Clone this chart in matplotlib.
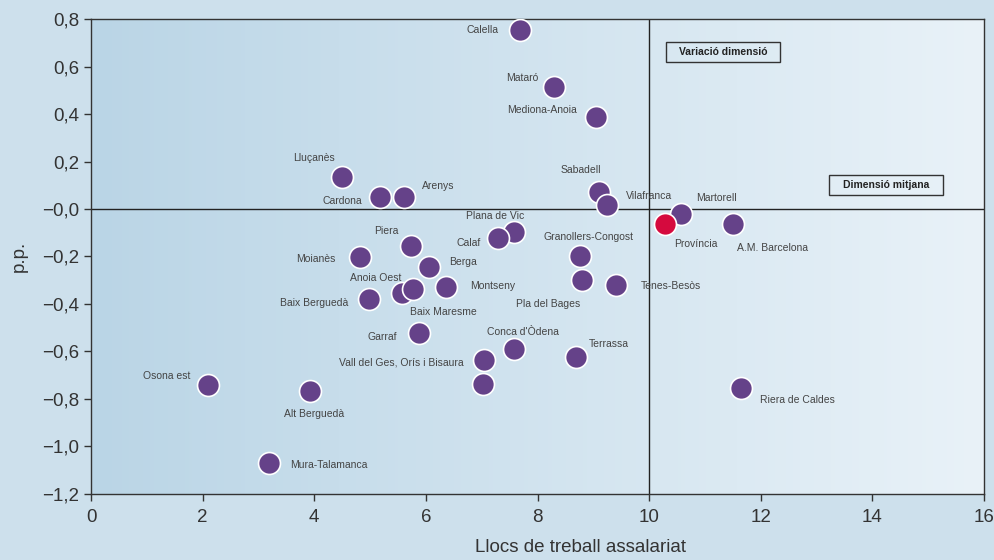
import numpy as np
import matplotlib
matplotlib.use("Agg")
import matplotlib.pyplot as plt
from matplotlib.colors import LinearSegmentedColormap
from matplotlib.patches import Rectangle

# data: x = llocs de treball assalariat, y = variació (p.p.)
names = ["Calella", "Mataró", "Mediona-Anoia", "Lluçanès", "Cardona", "Arenys",
         "Sabadell", "Vilafranca", "Martorell", "A.M. Barcelona", "Plana de Vic",
         "Calaf", "Piera", "Moianès", "Granollers-Congost", "Berga", "Pla del Bages",
         "Tenes-Besòs", "Montseny", "Anoia Oest", "Baix Maresme", "Baix Berguedà",
         "Garraf", "Conca d'Òdena", "Vall del Ges, Orís i Bisaura", "Terrassa", "",
         "Osona est", "Alt Berguedà", "Riera de Caldes", "Mura-Talamanca"]
xs = [7.69, 8.30, 9.05, 4.50, 5.18, 5.61, 9.10, 9.25, 10.57, 11.50, 7.58,
      7.29, 5.73, 4.82, 8.76, 6.06, 8.80, 9.41, 6.36, 5.57, 5.77, 4.98,
      5.88, 7.58, 7.04, 8.69, 7.03, 2.10, 3.92, 11.65, 3.19]
ys = [0.754, 0.514, 0.387, 0.135, 0.051, 0.051, 0.072, 0.017, -0.021, -0.063, -0.097,
      -0.122, -0.156, -0.202, -0.198, -0.244, -0.299, -0.320, -0.328, -0.353, -0.337, -0.379,
      -0.522, -0.589, -0.636, -0.623, -0.737, -0.741, -0.766, -0.753, -1.069]

prov_name = "Província"
prov_x = 10.29
prov_y = -0.063

# label offsets in pixels (dx, dy, ha)
offs = [(-22, 0, "right"), (-16, 9, "right"), (-19, 7, "right"), (-7, 19, "right"),
        (-18, -4, "right"), (18, 11, "left"), (-18, 22, "center"), (19, 9, "left"),
        (15, 16, "left"), (4, -24, "left"), (-19, 16, "center"),
        (-17, -5, "right"), (-25, 15, "center"), (-25, -2, "right"), (9, 19, "center"),
        (20, 5, "left"), (-34, -24, "center"), (25, -1, "left"), (24, 1, "left"),
        (-26, 15, "center"), (30, -23, "center"), (-21, -4, "right"),
        (-22, -4, "right"), (9, 17, "center"), (-20, -2, "right"), (13, 13, "left"), (0, 0, "left"),
        (-18, 9, "right"), (4, -23, "center"), (19, -12, "left"), (21, -2, "left")]

fig = plt.figure(figsize=(9.95, 5.6), dpi=100)
fig.patch.set_facecolor("#cde0ec")
ax = fig.add_axes([0.0915, 0.118, 0.8975, 0.848])

cmap = LinearSegmentedColormap.from_list("bg", ["#bad5e6", "#e9f2f8"])
grad = np.linspace(0, 1, 256).reshape(1, -1)
ax.imshow(grad, cmap=cmap, extent=[0, 16, -1.2, 0.8], aspect="auto", zorder=0)

ax.set_xlim(0, 16)
ax.set_ylim(-1.2, 0.8)
ax.axhline(0, color="#222222", lw=1, zorder=1)
ax.axvline(10, color="#222222", lw=1, zorder=1)

ax.scatter(xs, ys, s=250, color="#654289", edgecolor="white", linewidth=1.2, zorder=3)
ax.scatter([prov_x], [prov_y], s=250, color="#d50a3e", edgecolor="white", linewidth=1.2, zorder=4)

lab_font = dict(fontsize=7.5, color="#444444", family="Liberation Sans")
for n, x, y, (dx, dy, ha) in zip(names, xs, ys, offs):
    if n:
        ax.annotate(n, (x, y), xytext=(dx, dy), textcoords="offset pixels",
                    ha=ha, va="center", zorder=5, **lab_font)
ax.annotate(prov_name, (prov_x, prov_y), xytext=(9, -20), textcoords="offset pixels",
            ha="left", va="center", zorder=5, **lab_font)

# quadrant boxes
for cx, cy, txt in [(11.33, 0.661, "Variació dimensió"), (14.25, 0.101, "Dimensió mitjana")]:
    ax.add_patch(Rectangle((cx - 1.02, cy - 0.044), 2.04, 0.088, facecolor="none",
                           edgecolor="#333333", lw=1, zorder=5))
    ax.text(cx, cy, txt, ha="center", va="center", fontsize=7.5, fontweight="bold",
            color="#222222", family="Liberation Sans", zorder=5)

xt = [0, 2, 4, 6, 8, 10, 12, 14, 16]
yt = [0.8, 0.6, 0.4, 0.2, 0.0, -0.2, -0.4, -0.6, -0.8, -1.0, -1.2]
ax.set_xticks(xt)
ax.set_xticklabels([str(v) for v in xt])
ax.set_yticks(yt)
ylabs = []
for v in yt:
    s = "%.1f" % abs(v)
    s = s.replace(".", ",")
    if v <= 0:
        s = "\u2212" + s
    ylabs.append(s)
ax.set_yticklabels(ylabs)
ax.tick_params(labelsize=13.5, colors="#333333", length=5, width=1, direction="out")
ax.tick_params(axis="x", pad=6)
for t in ax.get_xticklabels() + ax.get_yticklabels():
    t.set_family("Liberation Sans")
    t.set_color("#333333")

for sp in ax.spines.values():
    sp.set_color("#333333")
    sp.set_linewidth(1)

ax.set_ylabel("p.p.", fontsize=13.5, color="#333333", family="Liberation Sans")
ax.yaxis.set_label_coords(-0.071, 0.5)
ax.set_xlabel("Llocs de treball assalariat", fontsize=13.5, color="#333333",
              family="Liberation Sans")
ax.xaxis.set_label_coords(0.548, -0.095)

fig.savefig("out.png", dpi=100, facecolor=fig.get_facecolor())
